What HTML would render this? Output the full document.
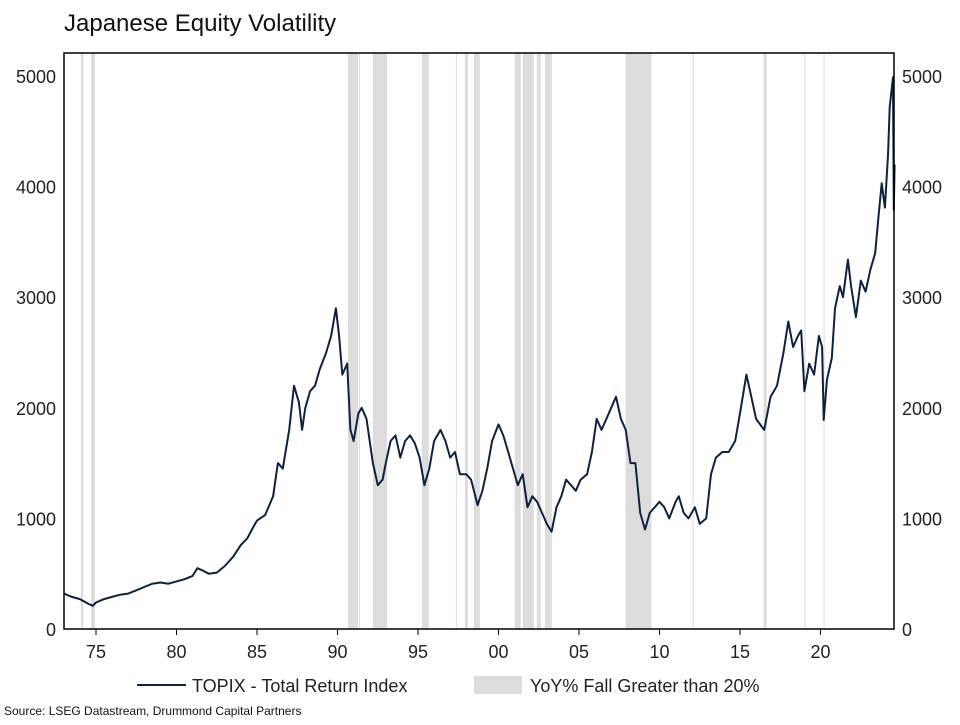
<!DOCTYPE html>
<html><head><meta charset="utf-8"><style>
body{margin:0;background:#fff;font-family:"Liberation Sans",Arial,sans-serif}
svg text{font-family:"Liberation Sans",Arial,sans-serif}
</style></head><body>
<svg id="chart" width="960" height="720" viewBox="0 0 960 720">
<text x="64" y="31" font-size="24" fill="#111">Japanese Equity Volatility</text>
<g id="bands"></g>
<g id="axes"></g>
<path id="line" fill="none" stroke="#0d2240" stroke-width="2" stroke-linejoin="round"></path>
<rect x="64" y="53" width="830" height="576" fill="none" stroke="#000" stroke-width="1.5"></rect>
<g>
<line x1="137" y1="685" x2="186" y2="685" stroke="#0d2240" stroke-width="2"></line>
<text x="192" y="692" font-size="18" fill="#222">TOPIX - Total Return Index</text>
<rect x="474" y="676" width="48" height="18" fill="#dcdcdc"></rect>
<text x="530" y="692" font-size="18" fill="#222">YoY% Fall Greater than 20%</text>
</g>
<text x="4" y="715" font-size="12" fill="#111">Source: LSEG Datastream, Drummond Capital Partners</text>
</svg>
<script>
const yTicks=[0,1000,2000,3000,4000,5000];
const xTickYears=[1975,1980,1985,1990,1995,2000,2005,2010,2015,2020];
const xTickLabels=["75","80","85","90","95","00","05","10","15","20"];
const bandStarts=[1974.07,1974.7,1990.65,1991.33,1992.2,1995.24,1997.35,1997.91,1998.47,2001.01,2001.51,2002.38,2002.88,2007.89,2012.06,2016.47,2019.0,2020.19];
const bandEnds=[1974.2,1974.94,1991.27,1991.39,1993.07,1995.67,1997.41,1998.1,1998.84,2001.38,2002.19,2002.63,2003.31,2009.5,2012.12,2016.66,2019.07,2020.25];
const years=[1973.0,1973.5,1974.0,1974.5,1974.8,1975,1975.5,1976,1976.5,1977,1977.5,1978,1978.5,1979,1979.5,1980,1980.5,1981,1981.3,1981.6,1982,1982.5,1983,1983.5,1984,1984.4,1984.8,1985,1985.5,1986,1986.3,1986.6,1987,1987.3,1987.6,1987.8,1988,1988.3,1988.6,1988.9,1989.3,1989.6,1989.9,1990.1,1990.3,1990.6,1990.8,1991,1991.3,1991.5,1991.8,1992,1992.2,1992.5,1992.8,1993,1993.3,1993.6,1993.9,1994.2,1994.5,1994.8,1995.1,1995.4,1995.7,1996,1996.4,1996.7,1997,1997.3,1997.6,1998,1998.3,1998.7,1999,1999.3,1999.6,2000,2000.3,2000.6,2000.9,2001.2,2001.5,2001.8,2002.1,2002.4,2002.7,2003,2003.3,2003.6,2003.9,2004.2,2004.5,2004.8,2005.1,2005.5,2005.8,2006.1,2006.4,2006.7,2007,2007.3,2007.6,2007.9,2008.2,2008.5,2008.8,2009.1,2009.4,2009.7,2010,2010.3,2010.6,2011,2011.2,2011.5,2011.8,2012.2,2012.5,2012.9,2013.2,2013.5,2013.9,2014.3,2014.7,2015,2015.4,2015.7,2016,2016.5,2016.9,2017.3,2017.7,2018.0,2018.3,2018.6,2018.8,2019.0,2019.3,2019.6,2019.9,2020.1,2020.2,2020.4,2020.7,2020.9,2021.2,2021.4,2021.7,2021.9,2022.2,2022.5,2022.8,2023.1,2023.4,2023.6,2023.8,2024.0,2024.2,2024.3,2024.5,2024.55,2024.6];
const values=[320,290,270,230,210,240,270,290,310,320,350,380,410,420,410,430,450,480,550,530,500,510,570,650,760,820,930,980,1030,1200,1500,1450,1800,2200,2050,1800,2000,2150,2200,2350,2500,2650,2900,2650,2300,2400,1800,1700,1950,2000,1900,1700,1500,1300,1350,1500,1700,1750,1550,1700,1750,1680,1550,1300,1450,1700,1800,1700,1550,1600,1400,1400,1350,1120,1250,1450,1700,1850,1750,1600,1450,1300,1400,1100,1200,1150,1050,950,880,1100,1200,1350,1300,1250,1350,1400,1600,1900,1800,1900,2000,2100,1900,1800,1500,1500,1050,900,1050,1100,1150,1100,1000,1150,1200,1050,1000,1100,950,1000,1400,1550,1600,1600,1700,1950,2300,2100,1900,1800,2100,2200,2500,2780,2550,2650,2700,2150,2400,2300,2650,2550,1890,2250,2450,2900,3100,3000,3340,3100,2820,3150,3050,3250,3400,3730,4030,3810,4300,4720,4990,3790,4200];
const x0=64,x1=894,yTop=53,yBot=629;
function xs(yr){return 96+(yr-1975)*16.1;}
function ys(v){return 629-v*0.1106;}
const NS="http://www.w3.org/2000/svg";
const bands=document.getElementById('bands');
for(let i=0;i<bandStarts.length;i++){
 const r=document.createElementNS(NS,'rect');
 r.setAttribute('x',xs(bandStarts[i]));r.setAttribute('y',yTop);
 r.setAttribute('width',Math.max(1,xs(bandEnds[i])-xs(bandStarts[i])));r.setAttribute('height',yBot-yTop);
 r.setAttribute('fill','#dcdcdc');
 
 
 bands.appendChild(r);
}
const axes=document.getElementById('axes');
yTicks.forEach(v=>{
 ['L','R'].forEach(side=>{
  const t=document.createElementNS(NS,'text');
  t.setAttribute('x',side==='L'?56:902);t.setAttribute('y',ys(v)+7);
  t.setAttribute('text-anchor',side==='L'?'end':'start');t.setAttribute('font-size','18');t.setAttribute('fill','#222');
  t.textContent=v;
  
  
  axes.appendChild(t);
 });
});
xTickYears.forEach((yr,i)=>{
 const l=document.createElementNS(NS,'line');
 l.setAttribute('x1',xs(yr));l.setAttribute('x2',xs(yr));l.setAttribute('y1',yBot);l.setAttribute('y2',yBot+6);
 l.setAttribute('stroke','#000');
 
 
 axes.appendChild(l);
 const t=document.createElementNS(NS,'text');
 t.setAttribute('x',xs(yr));t.setAttribute('y',658);t.setAttribute('text-anchor','middle');
 t.setAttribute('font-size','18');t.setAttribute('fill','#222');
 t.textContent=xTickLabels[i];
 
 
 axes.appendChild(t);
});
let d='';
years.forEach((yr,i)=>{d+=(i?'L':'M')+Math.max(x0,xs(yr)).toFixed(1)+','+ys(values[i]).toFixed(1);});
document.getElementById('line').setAttribute('d',d);
</script>
</body></html>
